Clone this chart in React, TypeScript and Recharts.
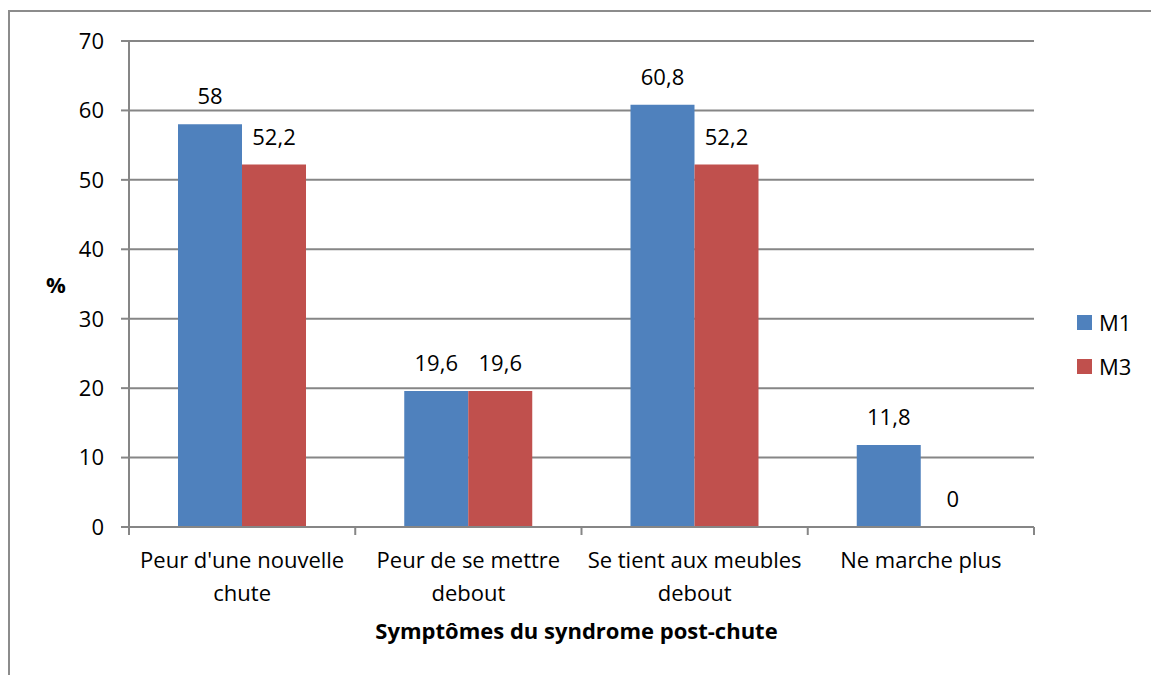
import { BarChart, Bar, XAxis, YAxis, CartesianGrid, LabelList } from 'recharts';

const categories = [
  "Peur d'une nouvelle\nchute",
  'Peur de se mettre\ndebout',
  'Se tient aux meubles\ndebout',
  'Ne marche plus',
];
const m1 = [58, 19.6, 60.8, 11.8];
const m3 = [52.2, 19.6, 52.2, 0];
const yTicks = [0, 10, 20, 30, 40, 50, 60, 70];

const BLUE = '#4F81BD';
const RED = '#C0504D';
const GRID = '#868686';
const FONT = '"Open Sans", Lato, sans-serif';
const FS = 22;

const W = 1151;
const H = 675;
const PLOT_LEFT = 129;
const PLOT_RIGHT = 1034;
const PLOT_TOP = 41;
const PLOT_BOTTOM = 527;
const BAND = (PLOT_RIGHT - PLOT_LEFT) / categories.length;

const data = categories.map((c, i) => ({ name: c, M1: m1[i], M3: m3[i] }));

const fmt = (v: number) => String(v).replace('.', ',');

function CategoryTick(props: any) {
  const { x, y, payload, index } = props;
  const lines = String(payload.value).split('\n');
  return (
    <g>
      <line x1={x - BAND / 2} x2={x - BAND / 2} y1={y - 8} y2={y} stroke={GRID} strokeWidth={2} />
      {index === categories.length - 1 && (
        <line x1={x + BAND / 2} x2={x + BAND / 2} y1={y - 8} y2={y} stroke={GRID} strokeWidth={2} />
      )}
      <text x={x} y={y + 33} textAnchor="middle" fontFamily={FONT} fontSize={FS} fill="#000">
        {lines.map((l, i) => (
          <tspan key={i} x={x} dy={i === 0 ? 0 : 33}>
            {l}
          </tspan>
        ))}
      </text>
    </g>
  );
}

function ValueLabel(props: any) {
  const { x, y, width, value } = props;
  if (value == null) return null;
  return (
    <text x={Number(x) + Number(width) / 2} y={Number(y) - 20} textAnchor="middle" fontFamily={FONT} fontSize={FS} fill="#000">
      {fmt(Number(value))}
    </text>
  );
}

// a zero bar gets a hair of height so its "0" label still shows
const zeroMin = (v: any) => (Number(v) === 0 ? 0.01 : 0);

const legendItems = [
  { label: 'M1', color: BLUE },
  { label: 'M3', color: RED },
];

export default function App() {
  return (
    <div style={{ position: 'fixed', left: 0, top: 0, width: W, height: H, background: '#fff', overflow: 'hidden' }}>
      <div
        style={{
          position: 'absolute',
          left: 8,
          top: 10,
          width: W + 20,
          height: H + 20,
          border: '2px solid #8c8c8c',
          boxSizing: 'border-box',
        }}
      />
      <div style={{ position: 'absolute', left: 0, top: 0 }}>
        <BarChart
          width={W}
          height={H}
          data={data}
          margin={{ top: PLOT_TOP, right: W - PLOT_RIGHT, bottom: 0, left: 0 }}
          barCategoryGap={49}
          barGap={0}
        >
          <CartesianGrid vertical={false} stroke={GRID} strokeWidth={2} />
          <XAxis
            dataKey="name"
            height={H - PLOT_BOTTOM}
            axisLine={{ stroke: GRID, strokeWidth: 2 }}
            tickLine={false}
            interval={0}
            tick={<CategoryTick />}
            label={{
              content: () => (
                <text x={(PLOT_LEFT + PLOT_RIGHT) / 2 - 5} y={639} textAnchor="middle" fontFamily={FONT} fontSize={FS} fontWeight="bold" fill="#000">
                  Symptômes du syndrome post-chute
                </text>
              ),
            }}
          />
          <YAxis
            width={PLOT_LEFT}
            domain={[0, 70]}
            ticks={yTicks}
            axisLine={{ stroke: GRID, strokeWidth: 2 }}
            tickLine={{ stroke: GRID, strokeWidth: 2 }}
            tickSize={8}
            tickMargin={17}
            tick={{ fill: '#000', fontFamily: FONT, fontSize: FS }}
            label={{
              content: () => (
                <text x={56} y={293} textAnchor="middle" fontFamily={FONT} fontSize={FS} fontWeight="bold" fill="#000">
                  %
                </text>
              ),
            }}
          />
          <Bar dataKey="M1" fill={BLUE} isAnimationActive={false} minPointSize={zeroMin}>
            <LabelList dataKey="M1" content={<ValueLabel />} />
          </Bar>
          <Bar dataKey="M3" fill={RED} isAnimationActive={false} minPointSize={zeroMin}>
            <LabelList dataKey="M3" content={<ValueLabel />} />
          </Bar>
        </BarChart>
      </div>
      <div style={{ position: 'absolute', left: 1077, top: 300, fontFamily: FONT, fontSize: FS }}>
        {legendItems.map((it) => (
          <div key={it.label} style={{ display: 'flex', alignItems: 'center', height: 44 }}>
            <span style={{ width: 15, height: 15, background: it.color, marginRight: 7, display: 'inline-block' }} />
            <span>{it.label}</span>
          </div>
        ))}
      </div>
    </div>
  );
}
